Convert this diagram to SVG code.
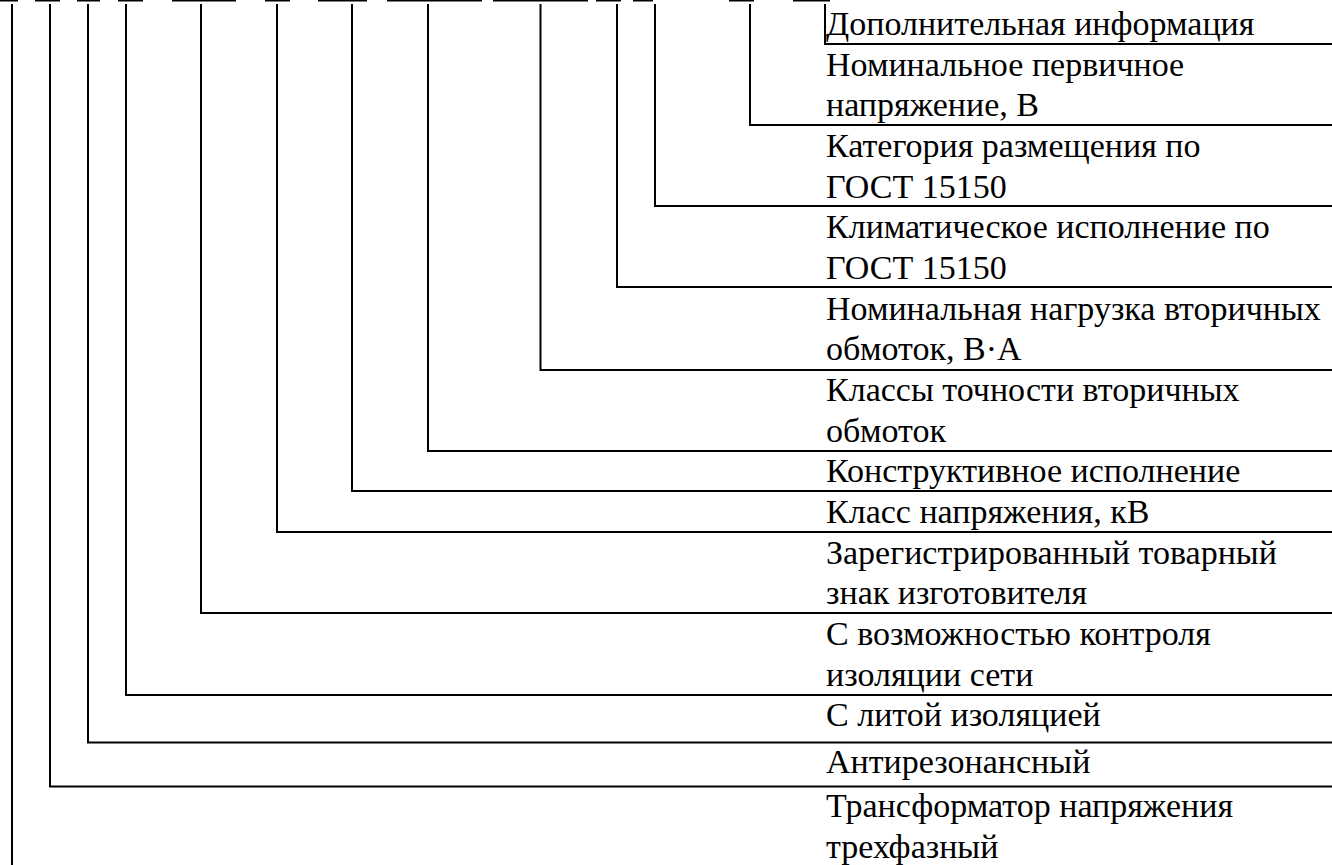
<svg xmlns="http://www.w3.org/2000/svg" width="1332" height="865" viewBox="0 0 1332 865">
<style>
.c{fill:none;stroke:#000;stroke-width:2}
.f{stroke:#000;stroke-width:1.5}
.t{font-family:"Liberation Serif","Times New Roman",serif;font-size:34px;fill:#000}
</style>
<rect width="1332" height="865" fill="#fff"/>
<g id="top-fragments">
<path class="f" d="M0 0.8H18M35 0.8H60M77 0.8H100M118 0.8H143M172 0.8H236M265 0.8H290M318 0.8H367M387 0.8H482M493 0.8H588M596 0.8H621M633 0.8H653M729 0.8H754M793 0.8H830"/>
</g>
<g id="connectors">
<path class="c" d="M825 4V44H1332"/>
<path class="c" d="M750 4V125H1332"/>
<path class="c" d="M655 4V206H1332"/>
<path class="c" d="M617 4V287H1332"/>
<path class="c" d="M540.5 4V370H1332"/>
<path class="c" d="M428 4V451H1332"/>
<path class="c" d="M352 4V491H1332"/>
<path class="c" d="M277 4V532H1332"/>
<path class="c" d="M201 4V613H1332"/>
<path class="c" d="M126 4V695H1332"/>
<path class="c" d="M88 4V742.5H1332"/>
<path class="c" d="M50 4V786.5H1332"/>
<path class="c" d="M12 4V865"/>
</g>
<g id="labels" class="t">
<g id="n1"><text x="826" y="35">Дополнительная информация</text></g>
<g id="n2"><text x="826" y="75.7">Номинальное первичное</text><text x="826" y="116.3">напряжение, В</text></g>
<g id="n3"><text x="826" y="157">Категория размещения по</text><text x="826" y="197.7">ГОСТ 15150</text></g>
<g id="n4"><text x="826" y="238.3">Климатическое исполнение по</text><text x="826" y="279">ГОСТ 15150</text></g>
<g id="n5"><text x="826" y="319.7">Номинальная нагрузка вторичных</text><text x="826" y="360.3">обмоток, В·А</text></g>
<g id="n6"><text x="826" y="401">Классы точности вторичных</text><text x="826" y="441.7">обмоток</text></g>
<g id="n7"><text x="826" y="482.3">Конструктивное исполнение</text></g>
<g id="n8"><text x="826" y="523">Класс напряжения, кВ</text></g>
<g id="n9"><text x="826" y="563.7">Зарегистрированный товарный</text><text x="826" y="604.3">знак изготовителя</text></g>
<g id="n10"><text x="826" y="645">С возможностью контроля</text><text x="826" y="685.7">изоляции сети</text></g>
<g id="n11"><text x="826" y="726.3">С литой изоляцией</text></g>
<g id="n12"><text x="826" y="773">Антирезонансный</text></g>
<g id="n13"><text x="826" y="817">Трансформатор напряжения</text><text x="826" y="858">трехфазный</text></g>
</g>
</svg>
